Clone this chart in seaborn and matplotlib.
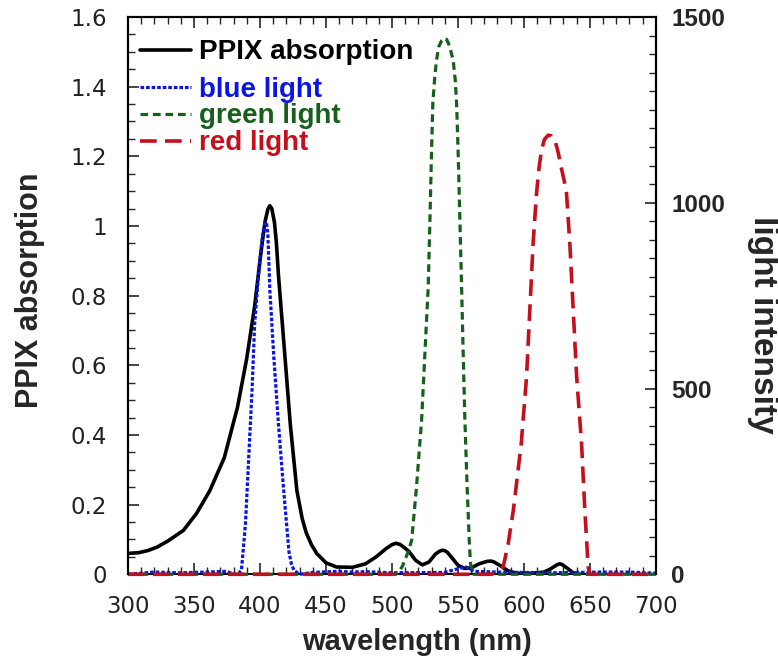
import seaborn as sns
import matplotlib.pyplot as plt
from matplotlib.ticker import MultipleLocator, FuncFormatter

# PPIX absorption spectrum (left axis)
ppix_wl = [300, 308, 315, 322, 330, 342, 352, 362, 373, 383, 390, 396, 400, 402, 404,
           406, 407.5, 409, 411, 412.5, 414, 418, 423, 428, 432, 435, 439, 443, 450, 458,
           470, 480, 488, 496, 500, 503, 506, 509, 513, 518, 523, 528, 533, 536, 538,
           540, 542, 546, 550, 555, 560, 566, 572, 575, 577, 582, 588, 594, 605, 615,
           620, 625, 627, 629, 633, 637, 642, 645]
ppix_abs = [0.060, 0.062, 0.068, 0.078, 0.095, 0.126, 0.175, 0.240, 0.335, 0.480, 0.620,
            0.770, 0.900, 0.960, 1.015, 1.048, 1.058, 1.050, 1.010, 0.950, 0.860, 0.670,
            0.430, 0.240, 0.160, 0.120, 0.085, 0.060, 0.033, 0.021, 0.020, 0.030, 0.050,
            0.075, 0.085, 0.089, 0.086, 0.078, 0.065, 0.040, 0.027, 0.035, 0.058, 0.066,
            0.069, 0.068, 0.063, 0.045, 0.026, 0.017, 0.018, 0.030, 0.037, 0.038, 0.036,
            0.025, 0.010, 0.003, 0.003, 0.006, 0.015, 0.027, 0.030, 0.028, 0.017, 0.005,
            0.0, 0.0]

# light sources (right axis)
blue_wl = [300, 320, 340, 360, 375, 380, 384, 386, 389, 391.5, 394, 396, 399, 401.5,
           403, 404, 405, 406, 407.5, 410.5, 414, 418, 422, 424, 426, 430, 440, 460,
           470, 480, 500, 540, 551, 556, 562, 580, 600, 620, 660, 680, 700]
blue_int = [0, 6, 4, 6, 8, 0, 3, 12, 135, 315, 495, 675, 810, 900, 935, 948, 945, 915,
            765, 585, 405, 225, 60, 25, 10, 0, 5, 8, 6, 7, 4, 5, 16, 20, 8, 6, 5, 4, 6,
            6, 3]

green_wl = [300, 503, 505, 508, 510, 512.5, 515, 518.6, 522.5, 525, 527.5, 528.8, 530,
            531, 532.5, 533.8, 535.5, 537.6, 539.5, 541.4, 543, 544.5, 546.4, 548, 549,
            550.2, 551.5, 552.8, 554, 555.3, 557, 558.6, 559.5, 561, 562, 700]
green_int = [0, 0, 5, 22, 40, 62, 92, 234, 415, 595, 773, 953, 1134, 1268, 1340, 1384,
             1420, 1436, 1443, 1440, 1428, 1410, 1384, 1330, 1268, 1134, 953, 773, 595,
             415, 234, 92, 30, 8, 0, 0]

red_wl = [300, 575, 580, 584.3, 588, 592, 598, 602, 604.5, 607, 609.6, 611.5, 613.4,
          615.5, 618.4, 621, 623.5, 626, 628.6, 630.5, 632.3, 634.8, 637.4, 640, 643.7,
          646.2, 648.7, 650, 700]
red_int = [0, 0, 8, 20, 80, 172, 352, 531, 711, 891, 1026, 1095, 1142, 1170, 1182, 1180,
           1169, 1135, 1090, 1060, 1026, 891, 711, 531, 352, 172, 20, 0, 0]

sns.set_style("ticks")
plt.rcParams['font.family'] = ['Liberation Sans', 'DejaVu Sans']
plt.rcParams['lines.scale_dashes'] = False

BLUE = '#0a14e6'
GREEN = '#17601c'
RED = '#c4101c'

fig, ax = plt.subplots(figsize=(7.78, 6.67), dpi=100)
fig.subplots_adjust(left=0.1645, right=0.843, bottom=0.139, top=0.9745)
ax2 = ax.twinx()

sns.lineplot(x=ppix_wl, y=ppix_abs, ax=ax, color='black', lw=2.6, legend=False)
sns.lineplot(x=blue_wl, y=blue_int, ax=ax2, color=BLUE, lw=2.3,
             linestyle=(0, (2.6, 1.4)), legend=False)
sns.lineplot(x=green_wl, y=green_int, ax=ax2, color=GREEN, lw=2.3,
             linestyle=(0, (5.5, 3.5)), legend=False)
sns.lineplot(x=red_wl, y=red_int, ax=ax2, color=RED, lw=2.6,
             linestyle=(0, (12, 6)), legend=False)
# light baselines sit on top of the bottom axis line, as in the original
for ln in ax2.get_lines():
    ln.set_clip_on(False)
ax2.spines['bottom'].set_visible(False)

ax.set_xlim(300, 700)
ax.set_ylim(0, 1.6)
ax2.set_ylim(0, 1500)

ax.xaxis.set_major_locator(MultipleLocator(50))
ax.xaxis.set_minor_locator(MultipleLocator(10))
ax.yaxis.set_major_locator(MultipleLocator(0.2))
ax.yaxis.set_minor_locator(MultipleLocator(0.05))
ax.yaxis.set_major_formatter(FuncFormatter(lambda v, p: f"{v:g}"))
ax2.yaxis.set_major_locator(MultipleLocator(500))
ax2.yaxis.set_minor_locator(MultipleLocator(50))

ax.tick_params(axis='x', which='both', direction='in', top=True, bottom=True)
ax.tick_params(axis='y', which='both', direction='in', left=True, right=False)
ax.tick_params(which='major', length=8, width=1.2, pad=15, labelsize=16.5,
               labelfontfamily='DejaVu Sans', labelcolor='#222222')
ax.tick_params(which='minor', length=5, width=1.0)
ax2.tick_params(axis='y', which='both', direction='in', right=True)
ax2.tick_params(which='major', length=8, width=1.2, pad=11, labelsize=17.5)
ax2.tick_params(which='minor', length=5, width=1.0)
for lbl in ax2.get_yticklabels():
    lbl.set_fontweight('bold')

for a in (ax, ax2):
    for sp in a.spines.values():
        sp.set_linewidth(1.5)
        sp.set_color('black')

ax.set_xlabel('wavelength (nm)', fontsize=21, fontweight='bold')
ax.xaxis.set_label_coords(0.548, -0.097)
ax.set_ylabel('PPIX absorption', fontsize=22, fontweight='bold')
ax.yaxis.set_label_coords(-0.157, 0.51)
ax2.set_ylabel('light intensity', fontsize=24, fontweight='bold',
               rotation=270, va='bottom')
ax2.yaxis.set_label_coords(1.172, 0.447)

lines1 = ax.get_lines()
lines2 = ax2.get_lines()
ax.legend(handles=[lines1[0]], labels=['PPIX absorption'], loc='upper left',
          bbox_to_anchor=(0.022, 0.96), frameon=False,
          prop={'weight': 'bold', 'size': 20}, handlelength=1.85,
          handletextpad=0.3, borderpad=0, borderaxespad=0, labelcolor='linecolor')
ax2.legend(handles=list(lines2[:3]), labels=['blue light', 'green light', 'red light'],
           loc='upper left', bbox_to_anchor=(0.022, 0.893), frameon=False,
           prop={'weight': 'bold', 'size': 20}, handlelength=1.85,
           handletextpad=0.3, borderpad=0, borderaxespad=0, labelspacing=0.03,
           labelcolor='linecolor')

plt.savefig('out.png', dpi=100)
plt.close()
